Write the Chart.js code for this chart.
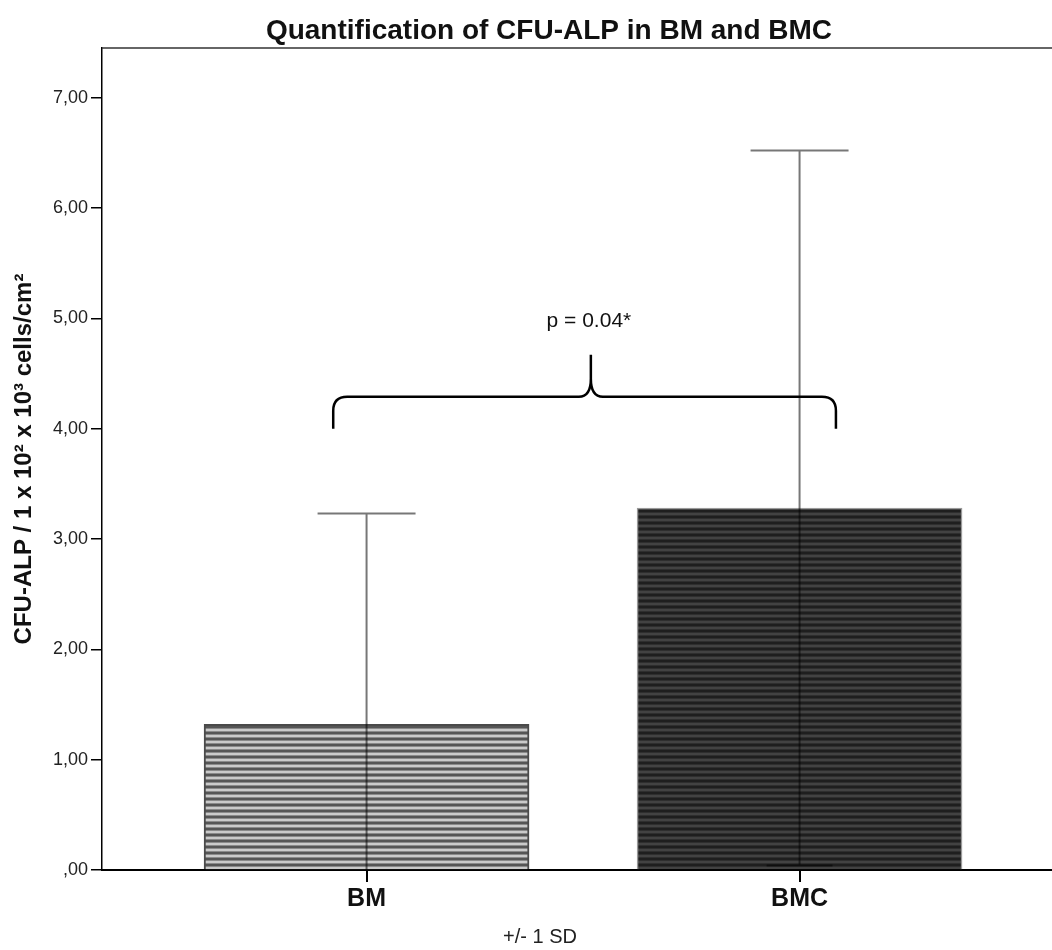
<!DOCTYPE html>
<html>
<head>
<meta charset="utf-8">
<script src="https://cdn.jsdelivr.net/npm/chart.js@4.4.1/dist/chart.umd.min.js"></script>
<style>
  body { margin: 0; background: #fff; }
  #wrap { width: 1052px; height: 950px; }
</style>
</head>
<body>
<div id="wrap"><canvas id="cfuChart" width="1052" height="950"></canvas></div>
<script>
const categories = ['BM', 'BMC'];
const means = [1.32, 3.28];
const sds = [1.91, 3.24];
const yTicks = [0, 1, 2, 3, 4, 5, 6, 7];
const chartTitle = 'Quantification of CFU-ALP in BM and BMC';
const yTitle = 'CFU-ALP / 1 x 10² x 10³ cells/cm²';
const xTitle = '+/- 1 SD';
const pLabel = 'p = 0.04*';

// brace between groups (x in category units, y in axis units)
const brace = { x0: -0.077, x1: 1.084, tip: 0.518, yFoot: 4.0, yBar: 4.29, yTip: 4.67, yText: 4.97 };

const FONT = '"Liberation Sans", Arial, sans-serif';

function stripes(dark, mid, light) {
  const c = document.createElement('canvas');
  c.width = 6; c.height = 6;
  const g = c.getContext('2d');
  g.fillStyle = light; g.fillRect(0, 0, 6, 6);
  g.fillStyle = dark; g.fillRect(0, 0, 6, 2);
  g.fillStyle = mid; g.fillRect(0, 2, 6, 1); g.fillRect(0, 5, 6, 1);
  return g.createPattern(c, 'repeat');
}

const framePlugin = {
  id: 'frame',
  beforeDatasetsDraw(chart) {
    const { ctx, chartArea: a } = chart;
    ctx.save();
    ctx.strokeStyle = '#333';
    ctx.lineWidth = 1.5;
    ctx.beginPath();
    ctx.moveTo(a.left, a.top);
    ctx.lineTo(a.right, a.top);
    ctx.stroke();
    ctx.restore();
  },
  afterDraw(chart) {
    const { ctx } = chart;
    ctx.save();
    ctx.textAlign = 'center';
    ctx.textBaseline = 'middle';
    ctx.fillStyle = '#111';
    ctx.font = 'bold 28px ' + FONT;
    ctx.fillText(chartTitle, 549, 31);
    ctx.fillStyle = '#222';
    ctx.font = '20px ' + FONT;
    ctx.fillText(xTitle, 540, 937);
    ctx.restore();
  }
};

const errorPlugin = {
  id: 'errbars',
  afterDatasetsDraw(chart) {
    const { ctx, chartArea: a, scales: { x, y } } = chart;
    ctx.save();
    ctx.beginPath();
    ctx.rect(a.left, a.top, a.right - a.left, a.bottom - a.top);
    ctx.clip();
    ctx.globalCompositeOperation = 'multiply';
    ctx.strokeStyle = '#777';
    ctx.lineWidth = 2;
    means.forEach((m, i) => {
      const px = x.getPixelForValue(i);
      const hi = y.getPixelForValue(m + sds[i]);
      const lo = y.getPixelForValue(m - sds[i]);
      ctx.beginPath();
      ctx.moveTo(px, hi); ctx.lineTo(px, lo);
      ctx.moveTo(px - 49, hi); ctx.lineTo(px + 49, hi);
      ctx.moveTo(px - 33, lo); ctx.lineTo(px + 33, lo);
      ctx.stroke();
    });
    ctx.restore();

    // significance brace
    const xl = x.getPixelForValue(brace.x0);
    const xr = x.getPixelForValue(brace.x1);
    const xt = x.getPixelForValue(brace.tip);
    const yf = y.getPixelForValue(brace.yFoot);
    const yb = y.getPixelForValue(brace.yBar);
    const yt = y.getPixelForValue(brace.yTip);
    ctx.save();
    ctx.strokeStyle = '#000';
    ctx.lineWidth = 2.5;
    ctx.lineJoin = 'round';
    ctx.beginPath();
    ctx.moveTo(xl, yf);
    ctx.lineTo(xl, yb + 14);
    ctx.quadraticCurveTo(xl, yb, xl + 14, yb);
    ctx.lineTo(xt - 12, yb);
    ctx.quadraticCurveTo(xt, yb, xt, yb - 18);
    ctx.lineTo(xt, yt);
    ctx.moveTo(xt, yb - 18);
    ctx.quadraticCurveTo(xt, yb, xt + 12, yb);
    ctx.lineTo(xr - 14, yb);
    ctx.quadraticCurveTo(xr, yb, xr, yb + 14);
    ctx.lineTo(xr, yf);
    ctx.stroke();
    ctx.fillStyle = '#111';
    ctx.font = '21px ' + FONT;
    ctx.textAlign = 'center';
    ctx.textBaseline = 'middle';
    ctx.fillText(pLabel, x.getPixelForValue(brace.x0 + (brace.x1 - brace.x0) * 0.5 + 0.01), y.getPixelForValue(brace.yText));
    ctx.restore();
  }
};

const ctx = document.getElementById('cfuChart').getContext('2d');
new Chart(ctx, {
  type: 'bar',
  data: {
    datasets: [{
      data: means.map((m, i) => ({ x: i, y: m })),
      backgroundColor: [stripes('#555', '#8a8a8a', '#cacaca'), stripes('#1e1e1e', '#2e2e2e', '#424242')],
      borderColor: ['#4a4a4a', '#9a9a9a'],
      borderWidth: [2, 1.5],
      borderSkipped: 'bottom',
      barThickness: 325
    }]
  },
  options: {
    responsive: false,
    animation: false,
    layout: { padding: { top: 48, left: 0, right: 0, bottom: 0 } },
    plugins: {
      legend: { display: false },
      tooltip: { enabled: false },
      title: { display: false }
    },
    scales: {
      x: {
        type: 'linear',
        offset: false,
        min: -0.611,
        max: 1.583,
        afterBuildTicks: (axis) => { axis.ticks = categories.map((c, i) => ({ value: i })); },
        afterFit: (axis) => { axis.height = 80; },
        ticks: {
          callback: (v) => categories[v],
          color: '#111',
          padding: 2,
          maxRotation: 0,
          font: { family: FONT, size: 25, weight: 'bold' }
        },
        grid: { offset: false, drawOnChartArea: false, tickLength: 12, color: '#000', lineWidth: 2 },
        border: { color: '#000', width: 2 }
      },
      y: {
        min: 0,
        max: 7.45,
        afterBuildTicks: (axis) => { axis.ticks = yTicks.map(v => ({ value: v })); },
        afterFit: (axis) => { axis.width = 102; },
        ticks: {
          callback: (v) => v === 0 ? ',00' : v.toFixed(2).replace('.', ','),
          color: '#222',
          padding: 3,
          font: { family: FONT, size: 18 }
        },
        grid: { drawOnChartArea: false, tickLength: 11, color: '#000', lineWidth: 1.5 },
        border: { color: '#000', width: 1.5 },
        title: {
          display: true,
          text: yTitle,
          color: '#111',
          font: { family: FONT, size: 24, weight: 'bold' },
          padding: { top: 10, bottom: 0 }
        }
      }
    }
  },
  plugins: [framePlugin, errorPlugin]
});
</script>
</body>
</html>
